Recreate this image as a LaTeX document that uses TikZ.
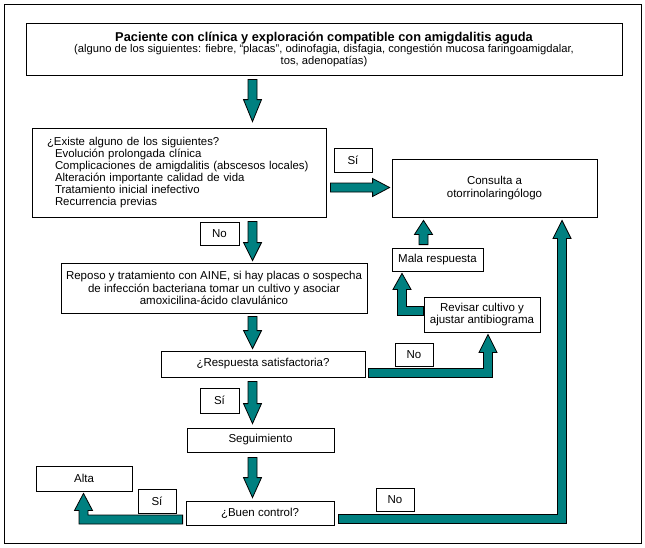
\documentclass[tikz,border=0pt]{standalone}
\usepackage{fontspec}
\setmainfont{Liberation Sans}
\usetikzlibrary{calc}
\definecolor{arrteal}{RGB}{0,128,128}
\tikzset{
  box/.style={draw=black, line width=0.8pt, fill=white, inner sep=0pt, align=center,
    font=\fontsize{11.5}{12.5}\selectfont},
  blk/.style={draw=black, line width=0.8pt, fill=arrteal, line join=miter},
}
% straight block arrows: #1 start, #2 tip, #3 head length
\newcommand\ArrDown[3]{\path[blk] let \p1=#1, \p2=#2 in
  (\x1-4.5pt,\y1) -- (\x1+4.5pt,\y1) -- (\x1+4.5pt,\y2+#3) -- (\x1+9pt,\y2+#3) -- (\x1,\y2)
  -- (\x1-9pt,\y2+#3) -- (\x1-4.5pt,\y2+#3) -- cycle;}
\newcommand\ArrUp[3]{\path[blk] let \p1=#1, \p2=#2 in
  (\x1-4.5pt,\y1) -- (\x1+4.5pt,\y1) -- (\x1+4.5pt,\y2-#3) -- (\x1+9pt,\y2-#3) -- (\x1,\y2)
  -- (\x1-9pt,\y2-#3) -- (\x1-4.5pt,\y2-#3) -- cycle;}
\newcommand\ArrRight[3]{\path[blk] let \p1=#1, \p2=#2 in
  (\x1,\y1+4.5pt) -- (\x2-#3,\y1+4.5pt) -- (\x2-#3,\y1+9pt) -- (\x2,\y1) -- (\x2-#3,\y1-9pt)
  -- (\x2-#3,\y1-4.5pt) -- (\x1,\y1-4.5pt) -- cycle;}
% L-shaped arrows: horizontal from #1, then up to tip #2
\newcommand\ArrRU[3]{\path[blk] let \p1=#1, \p2=#2 in
  (\x1,\y1+4.5pt) -- (\x2-4.5pt,\y1+4.5pt) -- (\x2-4.5pt,\y2-#3) -- (\x2-9pt,\y2-#3) -- (\x2,\y2)
  -- (\x2+9pt,\y2-#3) -- (\x2+4.5pt,\y2-#3) -- (\x2+4.5pt,\y1-4.5pt) -- (\x1,\y1-4.5pt) -- cycle;}
\newcommand\ArrLU[3]{\path[blk] let \p1=#1, \p2=#2 in
  (\x1,\y1+4.5pt) -- (\x2+4.5pt,\y1+4.5pt) -- (\x2+4.5pt,\y2-#3) -- (\x2+9pt,\y2-#3) -- (\x2,\y2)
  -- (\x2-9pt,\y2-#3) -- (\x2-4.5pt,\y2-#3) -- (\x2-4.5pt,\y1-4.5pt) -- (\x1,\y1-4.5pt) -- cycle;}
\begin{document}
\begin{tikzpicture}[x=1pt,y=-1pt]
\useasboundingbox (0,0) rectangle (645,547);
\draw[line width=0.8pt] (4,4) rectangle (641,543);

\node[box, minimum width=596pt, minimum height=52pt, font=\fontsize{11.2}{11.5}\selectfont] (top) at (324,49)
  {{\fontsize{12.8}{12}\selectfont\bfseries Paciente con clínica y exploración compatible con amigdalitis aguda}\\
   (alguno de los siguientes: fiebre, “placas”, odinofagia, disfagia, congestión mucosa faringoamigdalar,\\
   tos, adenopatías)};

\node[box, align=left, text width=264pt, inner xsep=15pt, minimum height=89pt,
  font=\fontsize{11.4}{12}\selectfont] (q1) at (179,172.5)
  {\mbox{¿Existe alguno de los siguientes?}\\
   \mbox{\hspace*{8pt}Evolución prolongada clínica}\\
   \mbox{\hspace*{8pt}Complicaciones de amigdalitis (abscesos locales)}\\
   \mbox{\hspace*{8pt}Alteración importante calidad de vida}\\
   \mbox{\hspace*{8pt}Tratamiento inicial inefectivo}\\
   \mbox{\hspace*{8pt}Recurrencia previas}};

\node[box, minimum width=38pt, minimum height=24pt] (yes1) at (353,160) {Sí};
\node[box, minimum width=205pt, minimum height=58pt] (cons) at (494.5,188) {Consulta a\\otorrinolaringólogo};
\node[box, minimum width=39pt, minimum height=23pt] (no1) at (219.5,233.5) {No};
\node[box, minimum width=306pt, minimum height=50pt] (b3) at (214,288)
  {Reposo y tratamiento con AINE, si hay placas o sospecha\\
   de infección bacteriana tomar un cultivo y asociar\\
   amoxicilina-ácido clavulánico};
\node[box, minimum width=91pt, minimum height=23pt] (mala) at (437.5,259.5) {Mala respuesta};
\node[box, minimum width=116pt, minimum height=35pt] (rev) at (482,314.5) {Revisar cultivo y\\ajustar antibiograma};
\node[box, minimum width=204pt, minimum height=26pt] (resp) at (263,364) {¿Respuesta satisfactoria?};
\node[box, minimum width=38pt, minimum height=23pt] (no2) at (414,354.5) {No};
\node[box, minimum width=39pt, minimum height=25pt] (yes2) at (219.5,400.5) {Sí};
\node[box, minimum width=147pt, minimum height=24pt] (seg) at (260.5,440) {Seguimiento};
\node[box, minimum width=148pt, minimum height=24pt] (buen) at (260,513) {¿Buen control?};
\node[box, minimum width=96pt, minimum height=25pt] (alta) at (84,478.5) {Alta};
\node[box, minimum width=38pt, minimum height=24pt] (yes3) at (157,501) {Sí};
\node[box, minimum width=38pt, minimum height=23pt] (no3) at (395,499.5) {No};

\coordinate (colx) at (252.5,0);
\coordinate (c424) at (423.5,0);
\coordinate (c402) at (402,311);
\coordinate (c488) at (488,0);
\coordinate (c83) at (83.5,0);
\coordinate (c562) at (562,0);

\ArrDown{($(colx |- top.south)+(0,4)$)}{($(colx |- q1.north)+(0,-6)$)}{22pt}
\ArrRight{($(q1.east)+(4,15)$)}{($(cons.west)+(-2,0)$)}{17pt}
\ArrDown{($(colx |- q1.south)+(0,4)$)}{($(colx |- b3.north)+(0,-2)$)}{18pt}
\ArrDown{($(colx |- b3.south)+(0,3)$)}{($(colx |- resp.north)+(0,-2)$)}{18pt}
\ArrDown{($(colx |- resp.south)+(0,4)$)}{($(colx |- seg.north)+(0,-4)$)}{20pt}
\ArrDown{($(colx |- seg.south)+(0,5)$)}{($(colx |- buen.north)+(0,-3)$)}{20pt}
\ArrUp{($(c424 |- mala.north)+(0,-3)$)}{($(c424 |- cons.south)+(0,3)$)}{14pt}
\ArrLU{(rev.west |- c402)}{($(c402 |- mala.south)+(0,2)$)}{16pt}
\ArrRU{($(resp.east)+(3,9)$)}{($(c488 |- rev.south)+(0,2)$)}{18pt}
\ArrLU{($(buen.west)+(-3,6.5)$)}{($(c83 |- alta.south)+(0,2)$)}{17pt}
\ArrRU{($(buen.east)+(4,6)$)}{($(c562 |- cons.south)+(0,3)$)}{18pt}
\end{tikzpicture}
\end{document}
